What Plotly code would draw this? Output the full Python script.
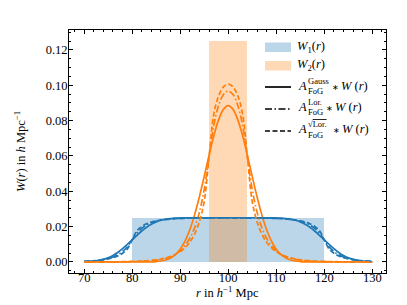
import plotly.graph_objects as go

# ---------------- data ----------------
r = [70, 71, 72, 73, 74, 75, 76, 77, 78, 79, 80, 81, 82, 83, 84, 85, 86, 87, 88, 89,
     90, 91, 92, 93, 94, 95, 96, 97, 98, 99, 100, 101, 102, 103, 104, 105, 106, 107, 108, 109,
     110, 111, 112, 113, 114, 115, 116, 117, 118, 119, 120, 121, 122, 123, 124, 125, 126, 127, 128, 129, 130]

# top-hat windows
w1_edges = [80, 120]
w1_height = 0.025
w2_edges = [96, 104]
w2_height = 0.125

# W1 convolved
w1_gauss = [0.00011, 0.00022, 0.00044, 0.00082, 0.00143, 0.00236, 0.00366, 0.00538, 0.00749, 0.00990,
            0.01250, 0.01510, 0.01752, 0.01963, 0.02134, 0.02264, 0.02357, 0.02418, 0.02456, 0.02478,
            0.02489, 0.02495, 0.02498, 0.02499, 0.02500, 0.02500, 0.02500, 0.02500, 0.02500, 0.02500,
            0.02500, 0.02500, 0.02500, 0.02500, 0.02500, 0.02500, 0.02500, 0.02499, 0.02498, 0.02495,
            0.02489, 0.02478, 0.02456, 0.02418, 0.02357, 0.02264, 0.02134, 0.01963, 0.01752, 0.01510,
            0.01250, 0.00990, 0.00749, 0.00538, 0.00366, 0.00236, 0.00143, 0.00082, 0.00044, 0.00022, 0.00011]
w1_lor = [0.00030, 0.00044, 0.00064, 0.00093, 0.00135, 0.00195, 0.00283, 0.00410, 0.00595, 0.00862,
          0.01250, 0.01638, 0.01905, 0.02090, 0.02217, 0.02305, 0.02366, 0.02407, 0.02436, 0.02456,
          0.02470, 0.02479, 0.02486, 0.02490, 0.02493, 0.02495, 0.02497, 0.02498, 0.02498, 0.02499,
          0.02499, 0.02499, 0.02498, 0.02498, 0.02497, 0.02495, 0.02493, 0.02490, 0.02486, 0.02479,
          0.02470, 0.02456, 0.02436, 0.02407, 0.02366, 0.02305, 0.02217, 0.02090, 0.01905, 0.01638,
          0.01250, 0.00862, 0.00595, 0.00410, 0.00283, 0.00195, 0.00135, 0.00093, 0.00064, 0.00044, 0.00030]
w1_sqrtlor = [0.00037, 0.00050, 0.00068, 0.00093, 0.00128, 0.00176, 0.00244, 0.00344, 0.00494, 0.00733,
              0.01250, 0.01767, 0.02007, 0.02156, 0.02256, 0.02325, 0.02373, 0.02407, 0.02432, 0.02450,
              0.02463, 0.02472, 0.02479, 0.02485, 0.02488, 0.02491, 0.02493, 0.02494, 0.02495, 0.02496,
              0.02496, 0.02496, 0.02495, 0.02494, 0.02493, 0.02491, 0.02488, 0.02485, 0.02479, 0.02472,
              0.02463, 0.02450, 0.02432, 0.02407, 0.02373, 0.02325, 0.02256, 0.02156, 0.02007, 0.01767,
              0.01250, 0.00733, 0.00494, 0.00344, 0.00244, 0.00176, 0.00128, 0.00093, 0.00068, 0.00050, 0.00037]

# W2 convolved
w2_gauss = [0.0, 0.0, 0.0, 0.0, 0.0, 0.0, 0.0, 0.0, 0.0, 0.0,
            0.0, 0.0, 0.00001, 0.00004, 0.00010, 0.00024, 0.00053, 0.00112, 0.00221, 0.00409,
            0.00715, 0.01174, 0.01819, 0.02664, 0.03689, 0.04840, 0.06029, 0.07139, 0.08041, 0.08634,
            0.08843, 0.08634, 0.08041, 0.07139, 0.06029, 0.04840, 0.03689, 0.02664, 0.01819, 0.01174,
            0.00715, 0.00409, 0.00221, 0.00112, 0.00053, 0.00024, 0.00010, 0.00004, 0.00001, 0.0,
            0.0, 0.0, 0.0, 0.0, 0.0, 0.0, 0.0, 0.0, 0.0, 0.0, 0.0]
w2_lor = [0.000004, 0.000006, 0.000008, 0.000012, 0.000018, 0.000026, 0.000037, 0.000054, 0.000078, 0.00011,
          0.00016, 0.00023, 0.00033, 0.00048, 0.00069, 0.00099, 0.00144, 0.00209, 0.00304, 0.00440,
          0.00638, 0.00925, 0.01341, 0.01945, 0.02821, 0.04089, 0.05930, 0.07726, 0.08855, 0.09475,
          0.09672, 0.09475, 0.08855, 0.07726, 0.05930, 0.04089, 0.02821, 0.01945, 0.01341, 0.00925,
          0.00638, 0.00440, 0.00304, 0.00209, 0.00144, 0.00099, 0.00069, 0.00048, 0.00033, 0.00023,
          0.00016, 0.00011, 0.000078, 0.000054, 0.000037, 0.000026, 0.000018, 0.000012, 0.000008, 0.000006, 0.000004]
w2_sqrtlor = [0.00002, 0.00002, 0.00003, 0.00004, 0.00005, 0.00007, 0.00009, 0.00012, 0.00016, 0.00022,
              0.00029, 0.00038, 0.00051, 0.00069, 0.00092, 0.00124, 0.00168, 0.00227, 0.00309, 0.00423,
              0.00581, 0.00801, 0.01119, 0.01581, 0.02282, 0.03415, 0.05909, 0.08369, 0.09395, 0.09904,
              0.10058, 0.09904, 0.09395, 0.08369, 0.05909, 0.03415, 0.02282, 0.01581, 0.01119, 0.00801,
              0.00581, 0.00423, 0.00309, 0.00227, 0.00168, 0.00124, 0.00092, 0.00069, 0.00051, 0.00038,
              0.00029, 0.00022, 0.00016, 0.00012, 0.00009, 0.00007, 0.00005, 0.00004, 0.00003, 0.00002, 0.00002]

x_ticks = [70, 80, 90, 100, 110, 120, 130]
y_ticks = [0.00, 0.02, 0.04, 0.06, 0.08, 0.10, 0.12]

# ---------------- style ----------------
BLUE = "#1f77b4"
ORANGE = "#ff7f0e"
BLUE_A = "rgba(31,119,180,0.3)"
ORANGE_A = "rgba(255,127,14,0.3)"
FONT = "Liberation Serif"
FS = 12.5
LW = 1.7
DASH = "5px,2.5px"
DASHDOT = "7px,2.5px,1.5px,2.5px"

W, H = 407, 305
ML, MR, MT, MB = 61, 29, 22, 40
PW, PH = W - ML - MR, H - MT - MB


def px(xp):
    return (xp - ML) / PW


def py(yp):
    return (MT + PH - yp) / PH


fig = go.Figure()

fig.add_trace(go.Bar(x=[(w1_edges[0] + w1_edges[1]) / 2], y=[w1_height],
                     width=[w1_edges[1] - w1_edges[0]], marker=dict(color=BLUE_A, line=dict(width=0))))
fig.add_trace(go.Bar(x=[(w2_edges[0] + w2_edges[1]) / 2], y=[w2_height],
                     width=[w2_edges[1] - w2_edges[0]], marker=dict(color=ORANGE_A, line=dict(width=0))))

for ys, col in [(w1_gauss, BLUE), (w2_gauss, ORANGE)]:
    fig.add_trace(go.Scatter(x=r, y=ys, mode="lines", line=dict(color=col, width=LW, shape="spline")))
for ys, col in [(w1_lor, BLUE), (w2_lor, ORANGE)]:
    fig.add_trace(go.Scatter(x=r, y=ys, mode="lines", line=dict(color=col, width=LW, dash=DASHDOT, shape="spline")))
for ys, col in [(w1_sqrtlor, BLUE), (w2_sqrtlor, ORANGE)]:
    fig.add_trace(go.Scatter(x=r, y=ys, mode="lines", line=dict(color=col, width=LW, dash=DASH, shape="spline")))

axis_common = dict(
    showline=True, linecolor="black", linewidth=1, mirror="allticks",
    ticks="inside", ticklen=4, tickwidth=0.8, tickcolor="black",
    showgrid=False, zeroline=False,
    tickfont=dict(family=FONT, size=FS, color="black"),
)
fig.update_xaxes(range=[66.85, 132.85], tickvals=x_ticks, ticklabelstandoff=-7,
                 minor=dict(ticks="inside", dtick=2, ticklen=2, tickwidth=0.6, tickcolor="black", showgrid=False),
                 **axis_common)
fig.update_yaxes(range=[-0.00625, 0.13125], tickvals=y_ticks, tickformat=".2f", ticklabelstandoff=-2,
                 minor=dict(ticks="inside", dtick=0.005, ticklen=2, tickwidth=0.6, tickcolor="black", showgrid=False),
                 **axis_common)

shapes = []
ann = []
# legend patches
shapes.append(dict(type="rect", xref="paper", yref="paper", x0=px(257), x1=px(283), y0=py(44), y1=py(34.5),
                   fillcolor=BLUE_A, line=dict(width=0), layer="above"))
shapes.append(dict(type="rect", xref="paper", yref="paper", x0=px(257), x1=px(283), y0=py(62.5), y1=py(53),
                   fillcolor=ORANGE_A, line=dict(width=0), layer="above"))
for yy, dash in [(79, "solid"), (101, DASHDOT), (123, DASH)]:
    shapes.append(dict(type="line", xref="paper", yref="paper", x0=px(257), x1=px(283), y0=py(yy), y1=py(yy),
                       line=dict(color="black", width=LW, dash=dash), layer="above"))


def text(xp, yp, s, size=FS, anchor="left", angle=0):
    ann.append(dict(xref="paper", yref="paper", x=px(xp), y=py(yp), text=s, showarrow=False,
                    xanchor=anchor, yanchor="middle", textangle=angle,
                    font=dict(family=FONT, size=size, color="black")))


text(287, 39, "<i>W</i><sub>1</sub>(<i>r</i>)")
text(287, 57.5, "<i>W</i><sub>2</sub>(<i>r</i>)")
SS = 8.5
rows = [(78, "Gauss", 322), (99, "Lor.", 316), (121.5, "√<span style='text-decoration:overline'>Lor.</span>", 323)]
for yc, sup, xr in rows:
    text(288, yc, "<i>A</i>")
    text(297.5, yc - 5.5, sup, size=SS)
    text(297.5, yc + 5, "FoG", size=SS)
    text(xr, yc + 1, "∗", size=8)
    text(xr + 9, yc, "<i>W</i> (<i>r</i>)")

# axis titles
text(219, 284, "<i>r</i> in <i>h</i><sup>−1</sup> Mpc", anchor="center")
ann.append(dict(xref="paper", yref="paper", x=px(12), y=py(144), text="<i>W</i>(<i>r</i>) in <i>h</i> Mpc<sup>−1</sup>",
                showarrow=False, xanchor="center", yanchor="middle", textangle=-90,
                font=dict(family=FONT, size=FS, color="black")))

fig.update_layout(
    width=W, height=H, margin=dict(l=ML, r=MR, t=MT, b=MB, pad=0),
    paper_bgcolor="white", plot_bgcolor="white",
    barmode="overlay", bargap=0, showlegend=False,
    shapes=shapes, annotations=ann,
    font=dict(family=FONT, size=FS, color="black"),
)

fig.write_html("out.html")
